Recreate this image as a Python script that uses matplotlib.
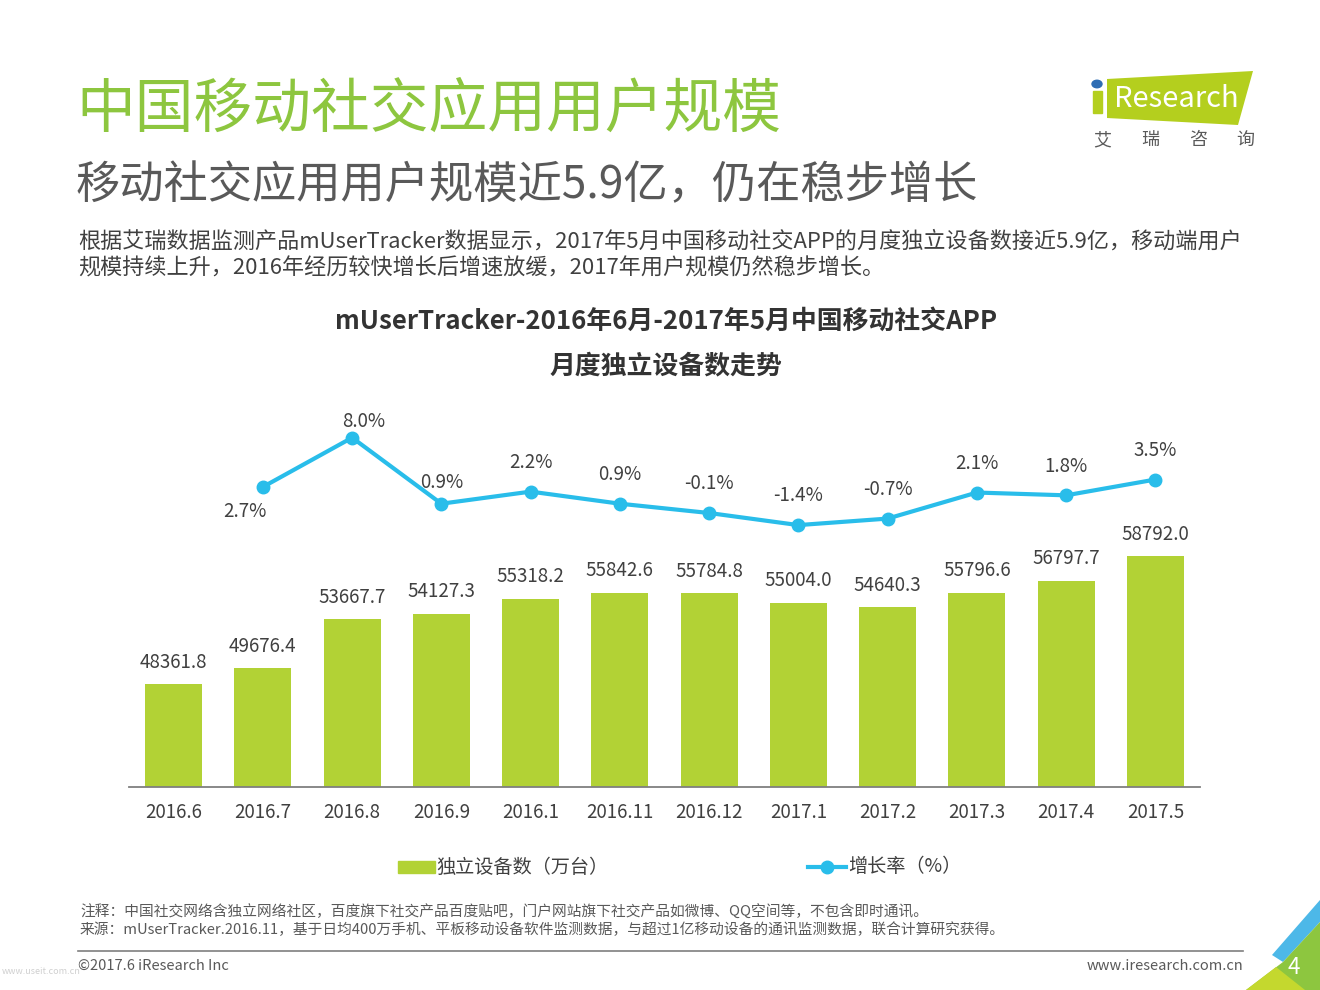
import matplotlib.pyplot as plt
from matplotlib.patches import Polygon, Rectangle, Circle
from matplotlib.lines import Line2D
import numpy as np

plt.rcParams['font.family'] = ['Noto Sans CJK SC', 'DejaVu Sans']

# 数据
months = ['2016.6', '2016.7', '2016.8', '2016.9', '2016.1', '2016.11',
          '2016.12', '2017.1', '2017.2', '2017.3', '2017.4', '2017.5']
devices = [48361.8, 49676.4, 53667.7, 54127.3, 55318.2, 55842.6,
           55784.8, 55004.0, 54640.3, 55796.6, 56797.7, 58792.0]
growth_months = months[1:]
growth = [2.7, 8.0, 0.9, 2.2, 0.9, -0.1, -1.4, -0.7, 2.1, 1.8, 3.5]

W, H = 1320, 990
fig = plt.figure(figsize=(W / 100, H / 100), dpi=100)
fig.patch.set_facecolor('white')


def px(x, y):
    return x / W, 1 - y / H


GREEN = '#B2D235'
BLUE = '#29BDEA'
TXT = '#404040'

# 标题区
fig.text(*px(76, 110), '中国移动社交应用用户规模', fontsize=42.3, color='#8DC63F', va='center')
fig.text(*px(76, 185), '移动社交应用用户规模近5.9亿，仍在稳步增长', fontsize=31.9, color='#595959', va='center')
fig.text(*px(78, 242), '根据艾瑞数据监测产品mUserTracker数据显示，2017年5月中国移动社交APP的月度独立设备数接近5.9亿，移动端用户',
         fontsize=15.9, color=TXT, va='center')
fig.text(*px(78, 269), '规模持续上升，2016年经历较快增长后增速放缓，2017年用户规模仍然稳步增长。',
         fontsize=15.9, color=TXT, va='center')
fig.text(*px(666, 321), 'mUserTracker-2016年6月-2017年5月中国移动社交APP', fontsize=18.6,
         fontweight='bold', color='#333333', ha='center', va='center')
fig.text(*px(666, 366), '月度独立设备数走势', fontsize=18.6, fontweight='bold',
         color='#333333', ha='center', va='center')

# 主图
x0, x1, ytop, ybot = 129, 1200, 400, 787
ax = fig.add_axes([x0 / W, 1 - ybot / H, (x1 - x0) / W, (ybot - ytop) / H])
x = np.arange(len(months))
bars = ax.bar(x, devices, width=0.64, color=GREEN, zorder=2)
ax.set_xlim(-0.5, len(months) - 0.5)
ax.set_ylim(40000, 71540)
ax.set_yticks([])
ax.set_xticks(x)
ax.set_xticklabels(months, fontsize=13.5, color=TXT)
ax.tick_params(axis='x', length=0, pad=11)
for s in ['top', 'right', 'left']:
    ax.spines[s].set_visible(False)
ax.spines['bottom'].set_color('#7F7F7F')
ax.spines['bottom'].set_linewidth(1.3)
ax.patch.set_alpha(0)

for xi, v in zip(x, devices):
    ax.annotate(f'{v:.1f}', (xi, v), xytext=(0, 16), textcoords='offset points',
                ha='center', va='center', fontsize=13.5, color=TXT)

# 增长率折线
ax2 = ax.twinx()
gx = np.arange(1, len(months))
ax2.plot(gx, growth, color=BLUE, lw=3, marker='o', ms=9, zorder=3)
ax2.set_ylim(-29.56, 12.05)
ax2.axis('off')
for i, (xi, v) in enumerate(zip(gx, growth)):
    dx, dy = 0, 21
    if i == 0:
        dx, dy = -13, -18
    elif i == 1:
        dx, dy = 8, 12
    elif i == 2:
        dy = 15
    ax2.annotate(f'{v:.1f}%', (xi, v), xytext=(dx, dy), textcoords='offset points',
                 ha='center', va='center', fontsize=13.5, color=TXT)

# 图例
fig.add_artist(Rectangle(px(398, 873), 37 / W, 12 / H, color=GREEN, transform=fig.transFigure))
fig.text(*px(436, 867), '独立设备数（万台）', fontsize=13.8, color=TXT, va='center')
lx0, ly = px(808, 867)
lx1, _ = px(846, 867)
fig.add_artist(Line2D([lx0, lx1], [ly, ly], color=BLUE, lw=3, transform=fig.transFigure))
fig.add_artist(Line2D([(lx0 + lx1) / 2], [ly], color=BLUE, marker='o', ms=9, transform=fig.transFigure))
fig.text(*px(848, 867), '增长率（%）', fontsize=13.8, color=TXT, va='center')

# 注释
fig.text(*px(80, 912), '注释：中国社交网络含独立网络社区，百度旗下社交产品百度贴吧，门户网站旗下社交产品如微博、QQ空间等，不包含即时通讯。',
         fontsize=10.6, color='#595959', va='center')
fig.text(*px(80, 930), '来源：mUserTracker.2016.11，基于日均400万手机、平板移动设备软件监测数据，与超过1亿移动设备的通讯监测数据，联合计算研究获得。',
         fontsize=10.6, color='#595959', va='center')
fig.add_artist(Line2D([78 / W, 1243 / W], [1 - 951 / H] * 2, color='#7F7F7F', lw=1.2,
                      transform=fig.transFigure))
fig.text(*px(2, 971), 'www.useit.com.cn', fontsize=6.5, color='#D0D0D0', va='center')
fig.text(*px(78, 966), '©2017.6 iResearch Inc', fontsize=10.5, color='#595959', va='center')
fig.text(*px(1243, 966), 'www.iresearch.com.cn', fontsize=10.5, color='#595959', va='center', ha='right')

# 右下角装饰
def poly(pts, c):
    fig.add_artist(Polygon([px(a, b) for a, b in pts], closed=True, color=c,
                           transform=fig.transFigure, lw=0))

poly([(1320, 900), (1320, 922), (1283, 962), (1272, 955)], '#4DB8E8')
poly([(1320, 922), (1320, 990), (1246, 990), (1283, 962)], '#8DC63F')
poly([(1246, 990), (1276, 967), (1305, 990)], '#C4D82E')
fig.text(*px(1294, 967), '4', fontsize=16, color='white', ha='center', va='center')

# Logo
poly([(1107, 79), (1253, 71), (1238, 125), (1107, 118)], '#B4CF1E')
fig.add_artist(Rectangle(px(1093, 113), 9 / W, 22 / H, color='#B4CF1E', transform=fig.transFigure))
fig.add_artist(Circle(px(1097, 84), 5 / W, color='#2E6DB4', transform=fig.transFigure))
fig.text(*px(1176, 99), 'Research', fontsize=21, color='white', ha='center', va='center')
for cx, ch in zip([1102, 1150, 1198, 1245], '艾瑞咨询'):
    fig.text(*px(cx, 140), ch, fontsize=13, color='#595959', ha='center', va='center')

fig.savefig('out.png', dpi=100)
